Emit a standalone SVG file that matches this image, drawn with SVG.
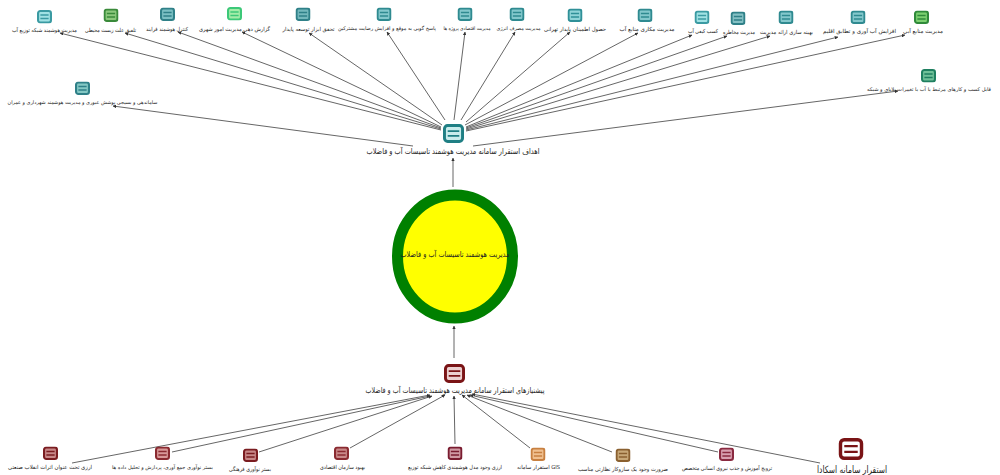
<svg xmlns="http://www.w3.org/2000/svg" width="1000" height="475" viewBox="0 0 1000 475">
<style>
text{font-family:"DejaVu Sans","Noto Sans",sans-serif;fill:#222;text-anchor:middle;direction:rtl;font-size:5.500px}
.s{font-size:5px}.m{font-size:8px}.l{font-size:10px}
.c line{stroke:#555;stroke-width:.9;marker-end:url(#a)}
</style>
<defs>
<marker id="a" viewBox="0 0 6 6" refX="5.500" refY="3" markerWidth="4" markerHeight="4" orient="auto" markerUnits="strokeWidth"><path d="M0 0L6 3L0 6z" fill="#333"/></marker>
<symbol id="i" viewBox="0 0 20 18"><rect x="1.400" y="1.400" width="17.200" height="15.200" rx="3" stroke="currentColor" stroke-width="2.800"/><path d="M4.500 6.700H15.500M4.500 11.300H15.500" stroke="currentColor" stroke-width="1.800" fill="none"/></symbol>
</defs>
<g class="c" id="connectors">
<line x1="441" y1="130" x2="60" y2="33"/><line x1="441" y1="129" x2="125" y2="33"/><line x1="441" y1="128" x2="178" y2="32"/><line x1="441" y1="127" x2="242" y2="32"/><line x1="442" y1="125" x2="309" y2="33"/><line x1="445" y1="120" x2="387" y2="32"/><line x1="454" y1="120" x2="465" y2="32"/><line x1="461" y1="120" x2="515" y2="32"/><line x1="466" y1="122" x2="570" y2="32"/><line x1="465" y1="125" x2="638" y2="33"/><line x1="466" y1="127" x2="692" y2="35"/><line x1="466" y1="128" x2="727" y2="36"/><line x1="466" y1="129" x2="770" y2="36"/><line x1="466" y1="130" x2="838" y2="37"/><line x1="466" y1="131" x2="905" y2="35"/><line x1="473" y1="146" x2="898" y2="91"/><line x1="413" y1="146" x2="113" y2="106"/>
<line x1="453" y1="187" x2="453" y2="158"/><line x1="454" y1="358" x2="454" y2="326"/>
<line x1="72" y1="463" x2="430" y2="395"/><line x1="172" y1="452" x2="430" y2="396"/><line x1="259" y1="452" x2="432" y2="396"/><line x1="350" y1="448" x2="445" y2="395"/><line x1="455" y1="444" x2="454" y2="396"/><line x1="530" y1="448" x2="462" y2="395"/><line x1="612" y1="452" x2="467" y2="395"/><line x1="718" y1="452" x2="470" y2="395"/><line x1="820" y1="463" x2="472" y2="394"/>
</g>
<g id="center"><ellipse cx="455" cy="256.500" rx="57.500" ry="61.500" fill="#ffff00" stroke="#008000" stroke-width="11"/><text x="455" y="257" class="m" textLength="109" lengthAdjust="spacingAndGlyphs">مدیریت هوشمند تاسیسات آب و فاضلاب</text></g>
<g id="hub-top"><use href="#i" x="443" y="124" width="21" height="19" color="#1f7f84" fill="#c8ecec"/><text x="453" y="154" class="m" textLength="173" lengthAdjust="spacingAndGlyphs">اهداف استقرار سامانه مدیریت هوشمند تاسیسات آب و فاضلاب</text></g>
<g id="hub-bottom"><use href="#i" x="444" y="364" width="21" height="19" color="#7a1416" fill="#ecd0d0"/><text x="455" y="393" class="m" textLength="179" lengthAdjust="spacingAndGlyphs">پیشنیازهای استقرار سامانه مدیریت هوشمند تاسیسات آب و فاضلاب</text></g>
<g id="t1"><use href="#i" x="37" y="10" width="15" height="13.500" color="#3a9aa2" fill="#a0e2e4"/><text x="44.500" y="32" textLength="65" lengthAdjust="spacingAndGlyphs">مدیریت هوشمند شبکه توزیع آب</text></g>
<g id="t2"><use href="#i" x="103.500" y="8.500" width="15" height="13.500" color="#3a8a3a" fill="#8cc87c"/><text x="110.500" y="32" textLength="51" lengthAdjust="spacingAndGlyphs">تلفیق علت زیست محیطی</text></g>
<g id="t3"><use href="#i" x="160" y="7.500" width="15" height="13.500" color="#2f8088" fill="#7cc0c4"/><text x="167" y="31" textLength="42" lengthAdjust="spacingAndGlyphs">کنترل هوشمند فرایند</text></g>
<g id="t4"><use href="#i" x="227" y="7" width="15" height="13.500" color="#3cc878" fill="#a4eca8"/><text x="234.500" y="31" textLength="71" lengthAdjust="spacingAndGlyphs">گزارش دهی مدیریت امور شهری</text></g>
<g id="t5"><use href="#i" x="295.500" y="7.500" width="15" height="13.500" color="#2f8088" fill="#74b8bc"/><text x="308.500" y="31" textLength="52" lengthAdjust="spacingAndGlyphs">تحقق ابزار توسعه پایدار</text></g>
<g id="t6"><use href="#i" x="376.500" y="7.500" width="15" height="13.500" color="#2f8a90" fill="#84c8cc"/><text class="s" x="387" y="30" textLength="98" lengthAdjust="spacingAndGlyphs">پاسخ گویی به موقع و افزایش رضایت مشترکین</text></g>
<g id="t7"><use href="#i" x="457.500" y="7.500" width="15" height="13.500" color="#2f8a90" fill="#84c8cc"/><text class="s" x="467" y="30" textLength="47" lengthAdjust="spacingAndGlyphs">مدیریت اقتصادی پروژه ها</text></g>
<g id="t8"><use href="#i" x="509.500" y="7.500" width="15" height="13.500" color="#2f8a90" fill="#84c8cc"/><text class="s" x="518.500" y="30" textLength="44" lengthAdjust="spacingAndGlyphs">مدیریت مصرف انرژی</text></g>
<g id="t9"><use href="#i" x="567.500" y="8.500" width="15" height="13.500" color="#2f9098" fill="#90d4d8"/><text x="575" y="31" textLength="62" lengthAdjust="spacingAndGlyphs">حصول اطمینان پایدار تهرانی</text></g>
<g id="t10"><use href="#i" x="637.500" y="8.500" width="15" height="13.500" color="#2f8a90" fill="#84c8cc"/><text x="647" y="31" textLength="55" lengthAdjust="spacingAndGlyphs">مدیریت مکاری منابع آب</text></g>
<g id="t11"><use href="#i" x="694.500" y="10.500" width="15" height="13.500" color="#3a9aa2" fill="#a0e2e4"/><text x="703" y="33" textLength="30" lengthAdjust="spacingAndGlyphs">کسب کیفی آب</text></g>
<g id="t12"><use href="#i" x="730.500" y="11.500" width="15" height="13.500" color="#2f8088" fill="#84c0c4"/><text x="739" y="34" textLength="32" lengthAdjust="spacingAndGlyphs">مدیریت مخاطره</text></g>
<g id="t13"><use href="#i" x="778.500" y="10.500" width="15" height="13.500" color="#2f8a90" fill="#84c8cc"/><text x="786.500" y="34" textLength="53" lengthAdjust="spacingAndGlyphs">بهینه سازی ارائه مدیریت</text></g>
<g id="t14"><use href="#i" x="850.500" y="10.500" width="15" height="13.500" color="#2f8a90" fill="#84c8cc"/><text x="859.500" y="33" textLength="73" lengthAdjust="spacingAndGlyphs">افزایش آب آوری و تطابق اقلیم</text></g>
<g id="t15"><use href="#i" x="914" y="10.500" width="15" height="13.500" color="#2f8a3a" fill="#7cd070"/><text x="923" y="33" textLength="40" lengthAdjust="spacingAndGlyphs">مدیریت منابع آبی</text></g>
<g id="t16"><use href="#i" x="921" y="69" width="15" height="13.500" color="#1f7f60" fill="#70c098"/><text class="s" x="929" y="91" textLength="124" lengthAdjust="spacingAndGlyphs">قابل کسب و کارهای مرتبط با آب با تغییرات بلایای و شبکه</text></g>
<g id="t17"><use href="#i" x="75" y="81.500" width="15" height="13.500" color="#2f8088" fill="#84c8c4"/><text class="s" x="82.500" y="104" textLength="150" lengthAdjust="spacingAndGlyphs">ساماندهی و بسیجی پوشش عبوری و مدیریت هوشمند شهرداری و عمران</text></g>
<g id="b1"><use href="#i" x="43" y="446.500" width="15" height="13.500" color="#7a1c20" fill="#c88888"/><text x="50" y="469" textLength="84" lengthAdjust="spacingAndGlyphs">ارزی تحت عنوان اثرات انقلاب صنعتی</text></g>
<g id="b2"><use href="#i" x="155" y="446.500" width="15" height="13.500" color="#8a2a30" fill="#d89898"/><text class="s" x="162.500" y="469" textLength="101" lengthAdjust="spacingAndGlyphs">بستر نوآوری جمع آوری، پردازش و تحلیل داده ها</text></g>
<g id="b3"><use href="#i" x="243" y="448.500" width="15" height="13.500" color="#7a1c20" fill="#c88888"/><text x="250" y="471" textLength="42" lengthAdjust="spacingAndGlyphs">بستر نوآوری فرهنگی</text></g>
<g id="b4"><use href="#i" x="334" y="446.500" width="15" height="13.500" color="#8a2a30" fill="#c88888"/><text x="342.500" y="469" textLength="45" lengthAdjust="spacingAndGlyphs">بهبود سازمان اقتصادی</text></g>
<g id="b5"><use href="#i" x="447.500" y="446.500" width="15" height="13.500" color="#7a1c30" fill="#d09aa4"/><text x="455" y="469" textLength="94" lengthAdjust="spacingAndGlyphs">ارزی وجود مدل هوشمندی کاهش شبکه توزیع</text></g>
<g id="b6"><use href="#i" x="530.500" y="447.500" width="15" height="13.500" color="#c88040" fill="#f0c090"/><text x="538.500" y="469" textLength="43" lengthAdjust="spacingAndGlyphs">GIS استقرار سامانه</text></g>
<g id="b7"><use href="#i" x="615.500" y="448.500" width="15" height="13.500" color="#8a6030" fill="#c8a878"/><text x="623" y="471" textLength="90" lengthAdjust="spacingAndGlyphs">ضرورت وجود یک سازوکار نظارتی مناسب</text></g>
<g id="b8"><use href="#i" x="719" y="447.500" width="15" height="13.500" color="#8a2a40" fill="#d8a0b0"/><text x="727" y="470" textLength="90" lengthAdjust="spacingAndGlyphs">ترویج آموزش و جذب نیروی انسانی متخصص</text></g>
<g id="b9"><use href="#i" x="838" y="438" width="26" height="22" color="#7a1416" fill="#fff"/><text x="852" y="473" class="l" textLength="70" lengthAdjust="spacingAndGlyphs">استقرار سامانه اسکادا</text></g>
</svg>
